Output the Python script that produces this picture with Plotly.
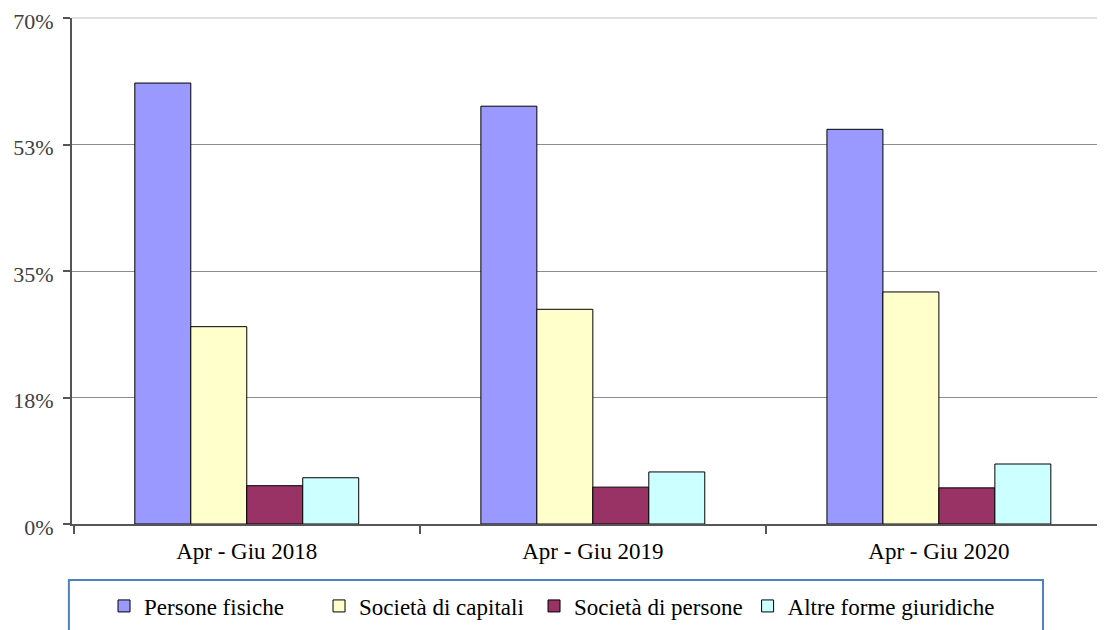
import plotly.graph_objects as go

categories = ["Apr - Giu 2018", "Apr - Giu 2019", "Apr - Giu 2020"]
series_names = ["Persone fisiche", "Società di capitali", "Società di persone", "Altre forme giuridiche"]
persone_fisiche = [61.0, 57.8, 54.6]
societa_capitali = [27.3, 29.7, 32.1]
societa_persone = [5.3, 5.1, 5.0]
altre_forme = [6.4, 7.2, 8.3]
values = [persone_fisiche, societa_capitali, societa_persone, altre_forme]
colors = ["#9999FF", "#FFFFCC", "#993366", "#CCFFFF"]
legend_ids = ["legend", "legend", "legend", "legend2"]

tick_vals = [0, 17.5, 35, 52.5, 70]
tick_text = ["0%", "18%", "35%", "53%", "70%"]

FONT = "Liberation Serif, Times New Roman, serif"

fig = go.Figure()
for name, vals, col, lg in zip(series_names, values, colors, legend_ids):
    fig.add_trace(go.Bar(
        x=categories, y=vals, name=name, legend=lg,
        marker=dict(color=col, line=dict(color="#000000", width=1)),
        hoverinfo="x+y+name",
    ))

legend_common = dict(
    orientation="h", y=-0.162, xanchor="left", yanchor="middle",
    font=dict(family=FONT, size=23, color="#000000"),
    bgcolor="rgba(0,0,0,0)", borderwidth=0,
    traceorder="normal", itemwidth=30,
)

fig.update_layout(
    width=1105, height=630,
    margin=dict(l=64, r=8, t=10, b=114, autoexpand=False),
    paper_bgcolor="white", plot_bgcolor="white",
    barmode="group", bargap=0.353, bargroupgap=0,
    font=dict(family=FONT, size=23, color="#000000"),
    showlegend=True,
    legend=dict(x=0.031, entrywidth=170, entrywidthmode="pixels", **legend_common),
    legend2=dict(x=0.654, **legend_common),
    xaxis=dict(
        range=[-0.505, 2.48],
        showline=True, linecolor="#555555", linewidth=2,
        ticks="outside", tickson="boundaries", ticklen=8, tickcolor="#555555", tickwidth=2,
        showgrid=False, ticklabelstandoff=5,
        tickfont=dict(family=FONT, size=23, color="#000000"),
    ),
    yaxis=dict(
        range=[0, 70],
        tickvals=tick_vals, ticktext=tick_text,
        showline=True, linecolor="#555555", linewidth=2,
        ticks="outside", ticklen=7, tickcolor="#555555", tickwidth=2,
        showgrid=True, gridcolor="#8c8c8c", gridwidth=1,
        zeroline=False, ticklabelstandoff=5, ticklabeloverflow="allow",
        ticklabelshift=3,
        tickfont=dict(family=FONT, size=22, color="#404040"),
    ),
    shapes=[
        dict(type="line", xref="paper", yref="paper", x0=0, x1=1, y0=1, y1=1,
             line=dict(color="#e0e0e0", width=2), layer="above"),
        dict(type="rect", xref="paper", yref="paper",
             x0=-0.003, x1=0.94, y0=-0.1107, y1=-0.25,
             line=dict(color="#4F81BD", width=2), fillcolor="rgba(0,0,0,0)"),
    ],
)

fig.write_html("out.html")
